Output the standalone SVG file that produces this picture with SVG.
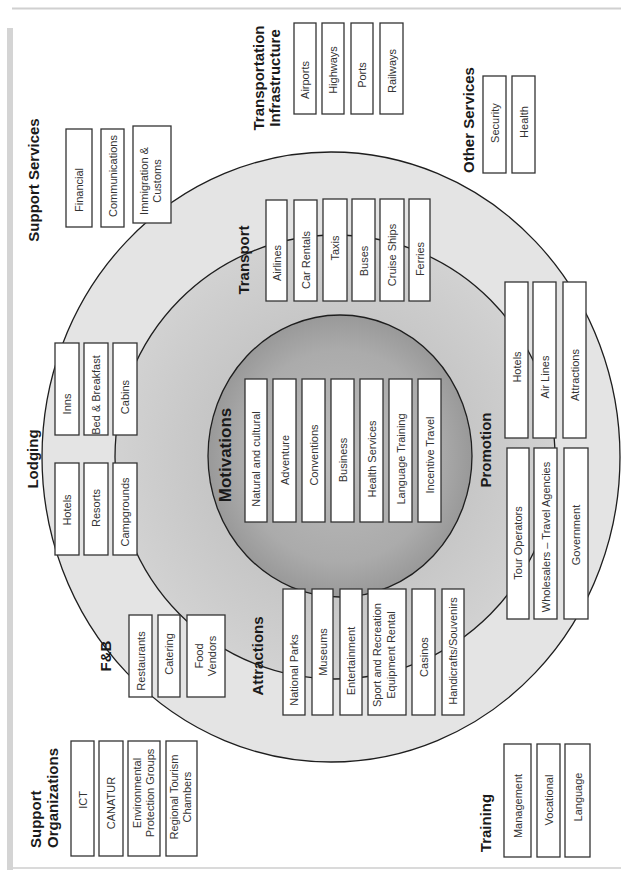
<svg xmlns="http://www.w3.org/2000/svg" width="621" height="873" viewBox="0 0 621 873">
<style>
.ring{stroke:#1e1e1e;stroke-width:1.3}
.box{fill:#fff;stroke:#333;stroke-width:1.3}
.bx{font-family:"Liberation Sans",Arial,sans-serif;font-size:11px;fill:#333;text-anchor:middle;dominant-baseline:central}
.lbl{font-family:"Liberation Sans",Arial,sans-serif;font-size:15px;font-weight:bold;fill:#1a1a1a;text-anchor:middle;dominant-baseline:central}
.big{font-size:17px}
.st{text-anchor:start}
</style>
<defs>
<radialGradient id="gIn" cx="0.5" cy="0.5" r="0.5">
<stop offset="0" stop-color="#bcbcbc"/>
<stop offset="0.75" stop-color="#ababab"/>
<stop offset="1" stop-color="#999"/>
</radialGradient>
<radialGradient id="gMid" cx="0.5" cy="0.5" r="0.5">
<stop offset="0.6" stop-color="#c6c6c6"/>
<stop offset="1" stop-color="#d2d2d2"/>
</radialGradient>
</defs>
<rect width="621" height="873" fill="#fff"/>
<g id="frame">
<rect x="7" y="28" width="6" height="842" fill="#d4d4d4"/>
<line x1="12" y1="8.5" x2="621" y2="8.5" stroke="#d0d0d0" stroke-width="2"/>
<line x1="13" y1="868" x2="621" y2="868" stroke="#dadada" stroke-width="2"/>
</g>
<g id="rings">
<ellipse class="ring" cx="331" cy="457" rx="289" ry="305" fill="#e4e4e4"/>
<ellipse class="ring" cx="335" cy="457" rx="220" ry="222" fill="url(#gMid)"/>
<ellipse class="ring" cx="340" cy="456" rx="132" ry="141" fill="url(#gIn)"/>
</g>
<g id="connectors"></g>

<g id="transportation-infrastructure">
<rect class="box" x="294" y="23" width="22" height="91"/>
<rect class="box" x="322" y="23" width="22" height="91"/>
<rect class="box" x="351" y="23" width="22" height="91"/>
<rect class="box" x="380" y="23" width="23" height="91"/>
<text class="bx" transform="translate(305,80) rotate(-90)">Airports</text>
<text class="bx" transform="translate(333,70) rotate(-90)">Highways</text>
<text class="bx" transform="translate(362,75) rotate(-90)">Ports</text>
<text class="bx" transform="translate(391.5,71) rotate(-90)">Railways</text>
<text class="lbl" transform="translate(258,78) rotate(-90)">Transportation</text>
<text class="lbl" transform="translate(274,78) rotate(-90)">Infrastructure</text>
</g>

<g id="other-services">
<rect class="box" x="483" y="76" width="23" height="97"/>
<rect class="box" x="512" y="76" width="23" height="97"/>
<text class="bx" transform="translate(494.5,123) rotate(-90)">Security</text>
<text class="bx" transform="translate(523.5,122) rotate(-90)">Health</text>
<text class="lbl" transform="translate(468,120) rotate(-90)">Other Services</text>
</g>

<g id="support-services">
<rect class="box" x="66" y="129" width="26" height="98"/>
<rect class="box" x="101" y="129" width="23" height="98"/>
<rect class="box" x="133" y="126" width="38" height="97"/>
<text class="bx" transform="translate(79,190) rotate(-90)">Financial</text>
<text class="bx" transform="translate(112.5,176) rotate(-90)">Communications</text>
<text class="bx" transform="translate(144,181) rotate(-90)">Immigration &amp;</text>
<text class="bx" transform="translate(157,181) rotate(-90)">Customs</text>
<text class="lbl" transform="translate(33,180) rotate(-90)">Support Services</text>
</g>

<g id="transport">
<rect class="box" x="266" y="200" width="21" height="101"/>
<rect class="box" x="294" y="200" width="23" height="101"/>
<rect class="box" x="323" y="199" width="24" height="102"/>
<rect class="box" x="352" y="199" width="23" height="102"/>
<rect class="box" x="380" y="199" width="24" height="102"/>
<rect class="box" x="409" y="199" width="21" height="102"/>
<text class="bx" transform="translate(276.5,263) rotate(-90)">Airlines</text>
<text class="bx" transform="translate(305.5,260) rotate(-90)">Car Rentals</text>
<text class="bx" transform="translate(335,248) rotate(-90)">Taxis</text>
<text class="bx" transform="translate(363.5,261) rotate(-90)">Buses</text>
<text class="bx" transform="translate(392,255) rotate(-90)">Cruise Ships</text>
<text class="bx" transform="translate(419.5,259) rotate(-90)">Ferries</text>
<text class="lbl" transform="translate(243,260) rotate(-90)">Transport</text>
</g>

<g id="lodging">
<rect class="box" x="55" y="343" width="24" height="92"/>
<rect class="box" x="84" y="343" width="24" height="92"/>
<rect class="box" x="113" y="343" width="24" height="92"/>
<rect class="box" x="55" y="463" width="24" height="92"/>
<rect class="box" x="84" y="463" width="24" height="92"/>
<rect class="box" x="113" y="463" width="24" height="92"/>
<text class="bx" transform="translate(67,404) rotate(-90)">Inns</text>
<text class="bx" transform="translate(96,395) rotate(-90)">Bed &amp; Breakfast</text>
<text class="bx" transform="translate(125,397) rotate(-90)">Cabins</text>
<text class="bx" transform="translate(67,510) rotate(-90)">Hotels</text>
<text class="bx" transform="translate(96,508) rotate(-90)">Resorts</text>
<text class="bx" transform="translate(125,512) rotate(-90)">Campgrounds</text>
<text class="lbl" transform="translate(32,459) rotate(-90)">Lodging</text>
</g>

<g id="motivations">
<rect class="box" x="245" y="379" width="22" height="143"/>
<rect class="box" x="273" y="379" width="23" height="143"/>
<rect class="box" x="302" y="379" width="23" height="143"/>
<rect class="box" x="331" y="379" width="23" height="143"/>
<rect class="box" x="360" y="379" width="23" height="143"/>
<rect class="box" x="389" y="379" width="23" height="143"/>
<rect class="box" x="418" y="379" width="23" height="143"/>
<text class="bx" transform="translate(256,459) rotate(-90)">Natural and cultural</text>
<text class="bx" transform="translate(284.5,460) rotate(-90)">Adventure</text>
<text class="bx" transform="translate(313.5,455) rotate(-90)">Conventions</text>
<text class="bx" transform="translate(342.5,460) rotate(-90)">Business</text>
<text class="bx" transform="translate(371.5,459) rotate(-90)">Health Services</text>
<text class="bx" transform="translate(400.5,459) rotate(-90)">Language Training</text>
<text class="bx" transform="translate(429.5,455) rotate(-90)">Incentive Travel</text>
<text class="lbl big" transform="translate(225,455) rotate(-90)">Motivations</text>
</g>

<g id="promotion">
<rect class="box" x="505" y="282" width="23" height="156"/>
<rect class="box" x="533" y="282" width="23" height="156"/>
<rect class="box" x="563" y="282" width="23" height="156"/>
<rect class="box" x="507" y="448" width="22" height="171"/>
<rect class="box" x="534" y="448" width="23" height="171"/>
<rect class="box" x="564" y="448" width="24" height="171"/>
<text class="bx" transform="translate(516.5,367) rotate(-90)">Hotels</text>
<text class="bx" transform="translate(544.5,377) rotate(-90)">Air Lines</text>
<text class="bx" transform="translate(574.5,375) rotate(-90)">Attractions</text>
<text class="bx" transform="translate(518,543) rotate(-90)">Tour Operators</text>
<text class="bx" transform="translate(545.5,537) rotate(-90)">Wholesalers – Travel Agencies</text>
<text class="bx" transform="translate(576,535) rotate(-90)">Government</text>
<text class="lbl" transform="translate(485,450) rotate(-90)">Promotion</text>
</g>

<g id="fnb">
<rect class="box" x="129" y="615" width="23" height="82"/>
<rect class="box" x="158" y="615" width="22" height="82"/>
<rect class="box" x="187" y="615" width="38" height="82"/>
<text class="bx" transform="translate(140.5,661) rotate(-90)">Restaurants</text>
<text class="bx" transform="translate(169,654) rotate(-90)">Catering</text>
<text class="bx" transform="translate(199,656) rotate(-90)">Food</text>
<text class="bx" transform="translate(212,656) rotate(-90)">Vendors</text>
<text class="lbl" transform="translate(105,656) rotate(-90)">F&amp;B</text>
</g>

<g id="attractions">
<rect class="box" x="283" y="589" width="22" height="126"/>
<rect class="box" x="312" y="589" width="21" height="126"/>
<rect class="box" x="340" y="589" width="22" height="126"/>
<rect class="box" x="368" y="589" width="38" height="126"/>
<rect class="box" x="412" y="589" width="23" height="126"/>
<rect class="box" x="442" y="589" width="22" height="126"/>
<text class="bx" transform="translate(294,670) rotate(-90)">National Parks</text>
<text class="bx" transform="translate(322.5,652) rotate(-90)">Museums</text>
<text class="bx" transform="translate(351,661) rotate(-90)">Entertainment</text>
<text class="bx" transform="translate(377,655) rotate(-90)">Sport and Recreation</text>
<text class="bx" transform="translate(391,655) rotate(-90)">Equipment Rental</text>
<text class="bx" transform="translate(423.5,657) rotate(-90)">Casinos</text>
<text class="bx" transform="translate(453,651) rotate(-90)">Handicrafts/Souvenirs</text>
<text class="lbl" transform="translate(257,656) rotate(-90)">Attractions</text>
</g>

<g id="support-organizations">
<rect class="box" x="71" y="741" width="23" height="115"/>
<rect class="box" x="99" y="741" width="24" height="115"/>
<rect class="box" x="128" y="741" width="32" height="115"/>
<rect class="box" x="166" y="741" width="31" height="115"/>
<text class="bx" transform="translate(82.5,800) rotate(-90)">ICT</text>
<text class="bx" transform="translate(111,803) rotate(-90)">CANATUR</text>
<text class="bx" transform="translate(137,793) rotate(-90)">Environmental</text>
<text class="bx" transform="translate(150,793) rotate(-90)">Protection Groups</text>
<text class="bx" transform="translate(174,797) rotate(-90)">Regional Tourism</text>
<text class="bx" transform="translate(187,797) rotate(-90)">Chambers</text>
<text class="lbl st" transform="translate(35,848) rotate(-90)">Support</text>
<text class="lbl st" transform="translate(52,848) rotate(-90)">Organizations</text>
</g>

<g id="training">
<rect class="box" x="504" y="744" width="27" height="113"/>
<rect class="box" x="537" y="744" width="23" height="113"/>
<rect class="box" x="565" y="744" width="25" height="113"/>
<text class="bx" transform="translate(517.5,806) rotate(-90)">Management</text>
<text class="bx" transform="translate(548.5,800) rotate(-90)">Vocational</text>
<text class="bx" transform="translate(577.5,797) rotate(-90)">Language</text>
<text class="lbl" transform="translate(485,823) rotate(-90)">Training</text>
</g>
</svg>
